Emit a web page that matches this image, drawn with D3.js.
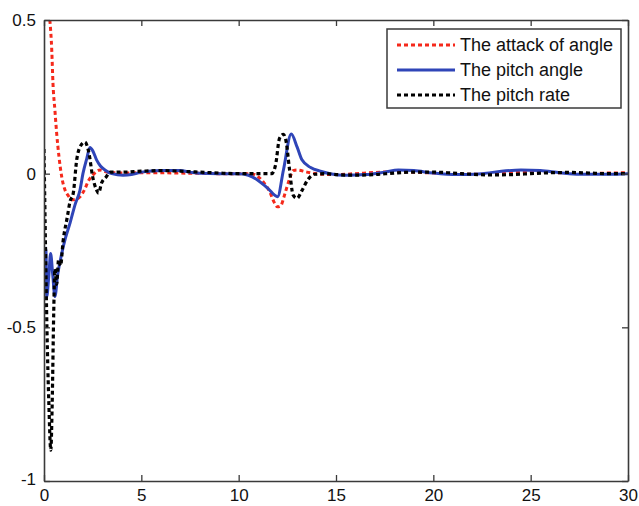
<!DOCTYPE html>
<html>
<head>
<meta charset="utf-8">
<script src="https://cdn.jsdelivr.net/npm/d3@7"></script>
<style>
  html, body { margin: 0; padding: 0; background: #fff; }
  svg { display: block; }
  text { font-family: "Liberation Sans", Arial, sans-serif; fill: #111; }
</style>
</head>
<body>
<svg id="chart" width="639" height="506"></svg>
<script>
// ---- data ----
const seriesNames = ["The attack of angle", "The pitch angle", "The pitch rate"];
const xTicks = [0, 5, 10, 15, 20, 25, 30];
const yTicks = [-1, -0.5, 0, 0.5];
const yTickLabels = ["-1", "-0.5", "0", "0.5"];

const attackT = [0.3,0.4,0.46,0.56,0.65,0.77,0.91,1.08,1.23,1.44,1.65,1.85,2.1,2.26,2.5,2.88,3.24,4,5,6,7,8,9,10,10.6,11.0,11.3,11.6,11.8,12.0,12.15,12.4,12.6,12.8,13.0,13.5,14,15,16,17,18,19,20,21,22,23,24,25,26,27,28,29,30];
const attackV = [0.5,0.4,0.295,0.207,0.132,0.055,-0.01,-0.053,-0.07,-0.085,-0.083,-0.075,-0.05,-0.026,-0.005,0.012,0.005,0.002,0.003,0.003,0.002,0.001,0,0,0,-0.01,-0.03,-0.06,-0.09,-0.108,-0.105,-0.06,-0.02,0.01,0.012,0.005,0,-0.003,0,0.004,0.006,0.005,0.002,0,-0.002,0,0.004,0.006,0.004,0.002,0,0.002,0.003];

const pitchT = [0.05,0.1,0.14,0.25,0.34,0.45,0.56,0.7,0.91,1.1,1.34,1.6,1.85,2.0,2.2,2.36,2.5,2.7,2.9,3.13,3.48,4.06,4.5,5,6,7,7.5,8,9,10,10.5,11,11.5,12.0,12.3,12.7,13.0,13.25,13.7,14.2,14.7,15.5,16.5,17.5,18.2,19,20,21.2,22.5,23.5,24.5,25.5,26.5,27.5,29,30];
const pitchV = [-0.24,-0.25,-0.40,-0.33,-0.26,-0.33,-0.40,-0.33,-0.26,-0.21,-0.16,-0.1,-0.053,0,0.05,0.085,0.075,0.045,0.025,0.012,0,-0.005,-0.003,0.005,0.01,0.01,0.005,0.001,0,0,-0.005,-0.022,-0.048,-0.075,0.012,0.129,0.087,0.045,0.02,0.008,0,-0.005,-0.003,0.005,0.012,0.01,0.002,-0.003,0,0.008,0.012,0.01,0.003,-0.002,-0.002,0];

const rateT = [0,0.08,0.15,0.25,0.35,0.42,0.5,0.56,0.65,0.75,0.85,0.98,1.2,1.34,1.5,1.68,1.85,2.1,2.3,2.5,2.7,2.8,2.96,3.2,3.4,4,5,6,7,8,9,10,11,11.7,11.9,12.1,12.3,12.45,12.6,12.8,13.0,13.25,13.55,13.9,14.5,15,16,17,18,19,20,21,22,23,24,25,26,27,28,29,30];
const rateV = [0.08,-0.25,-0.5,-0.75,-0.9,-0.75,-0.45,-0.31,-0.36,-0.28,-0.3,-0.22,-0.14,-0.09,-0.065,0.045,0.087,0.103,0.07,-0.01,-0.053,-0.063,-0.03,-0.01,0.005,0.005,0.008,0.01,0.008,0.005,0.002,0,0,0,0.03,0.115,0.128,0.1,0.02,-0.07,-0.08,-0.055,-0.02,-0.002,0,-0.003,-0.005,-0.003,0.002,0.005,0.005,0.002,-0.002,-0.004,-0.003,0,0.003,0.004,0.002,0,0];

// ---- layout ----
const svg = d3.select("#chart");
const L = 44, R = 628, T = 20, B = 481;
const x = d3.scaleLinear().domain([0, 30]).range([L, R]);
const y = d3.scaleLinear().domain([-1, 0.5]).range([B, T]);

const styles = [
  { color: "#f5291b", width: 3, dash: "4,3" },
  { color: "#2f45b8", width: 3, dash: null },
  { color: "#000000", width: 3.2, dash: "4,3" }
];
const series = [
  attackT.map((t, i) => [t, attackV[i]]),
  pitchT.map((t, i) => [t, pitchV[i]]),
  rateT.map((t, i) => [t, rateV[i]])
];

svg.append("defs").append("clipPath").attr("id", "clip")
  .append("rect").attr("x", L).attr("y", T - 2).attr("width", R - L).attr("height", B - T + 2);

const line = d3.line().x(d => x(d[0])).y(d => y(d[1])).curve(d3.curveMonotoneX);
const g = svg.append("g").attr("clip-path", "url(#clip)");
series.forEach((s, i) => {
  g.append("path").datum(s).attr("d", line)
    .attr("fill", "none").attr("stroke", styles[i].color)
    .attr("stroke-width", styles[i].width)
    .attr("stroke-dasharray", styles[i].dash)
    .attr("stroke-linejoin", "round");
});

// ---- axes (MATLAB-like box, inward ticks) ----
const frameColor = "#3a3a3a";
const tickLen = 6;
const xAxisB = d3.axisBottom(x).tickValues(xTicks).tickSizeInner(-tickLen).tickSizeOuter(0).tickPadding(8).tickFormat(d3.format("d"));
const xAxisT = d3.axisTop(x).tickValues(xTicks).tickSizeInner(-tickLen).tickSizeOuter(0).tickFormat("");
const yAxisL = d3.axisLeft(y).tickValues(yTicks).tickSizeInner(-tickLen).tickSizeOuter(0).tickPadding(8).tickFormat((d, i) => yTickLabels[i]);
const yAxisR = d3.axisRight(y).tickValues(yTicks).tickSizeInner(-tickLen).tickSizeOuter(0).tickFormat("");

function styleAxis(sel) {
  sel.selectAll("path").attr("stroke", frameColor).attr("stroke-width", 1.6);
  sel.selectAll("line").attr("stroke", frameColor).attr("stroke-width", 1.3);
  sel.selectAll("text").attr("font-size", 17).attr("fill", "#111")
     .style("font-family", "'Liberation Sans', Arial, sans-serif");
}
const gxB = svg.append("g").attr("transform", `translate(0,${B})`).call(xAxisB).call(styleAxis);
gxB.selectAll("text").attr("dy", "0.71em");
svg.append("g").attr("transform", `translate(0,${T})`).call(xAxisT).call(styleAxis);
const gyL = svg.append("g").attr("transform", `translate(${L},0)`).call(yAxisL).call(styleAxis);
// MATLAB nudges the lowest label upward
gyL.selectAll(".tick text").filter(d => d === -1).attr("dy", "0.2em");
svg.append("g").attr("transform", `translate(${R},0)`).call(yAxisR).call(styleAxis);

// ---- legend ----
const lg = svg.append("g");
lg.append("rect").attr("x", 387).attr("y", 29).attr("width", 234).attr("height", 79)
  .attr("fill", "#fff").attr("stroke", frameColor).attr("stroke-width", 1.5);
const rowY = [45, 70, 95];
seriesNames.forEach((name, i) => {
  lg.append("line").attr("x1", 397).attr("x2", 455).attr("y1", rowY[i]).attr("y2", rowY[i])
    .attr("stroke", styles[i].color).attr("stroke-width", styles[i].width)
    .attr("stroke-dasharray", styles[i].dash);
  lg.append("text").attr("x", 460).attr("y", rowY[i]).attr("dy", "0.36em")
    .attr("font-size", 18).text(name);
});
</script>
</body>
</html>
